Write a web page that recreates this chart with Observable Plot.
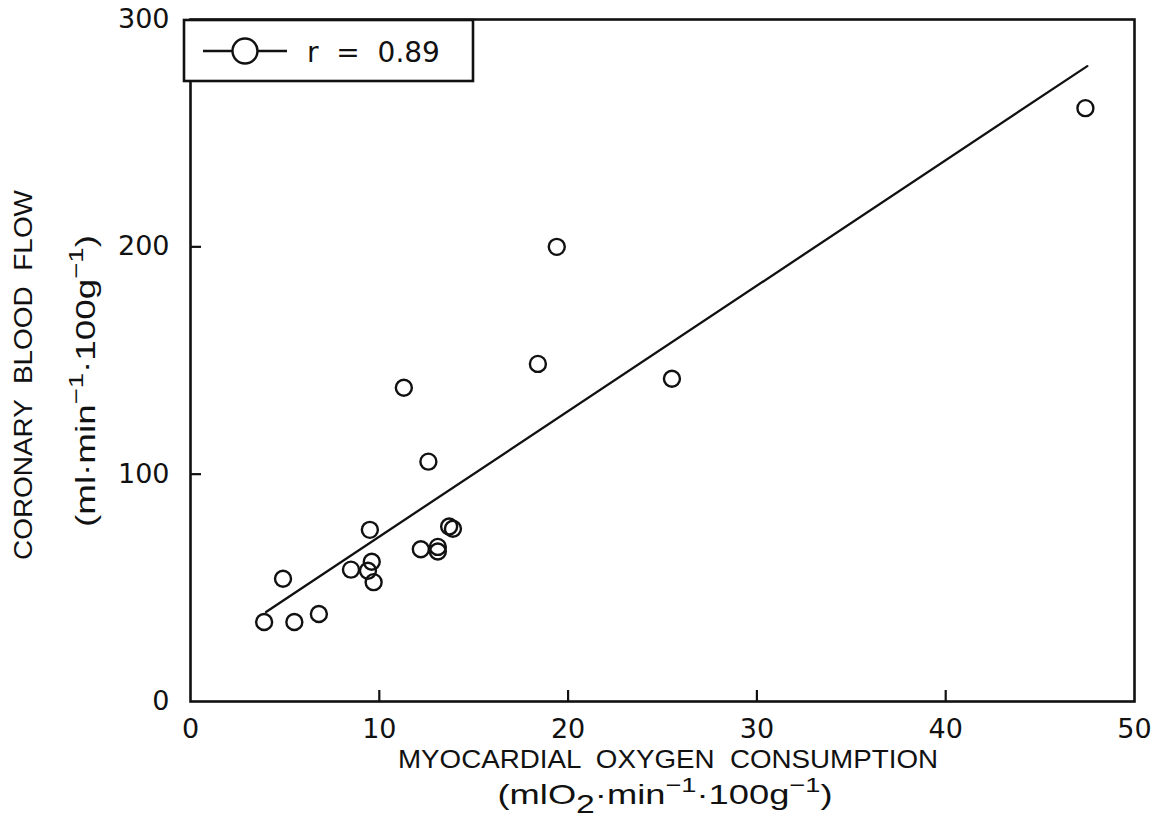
<!DOCTYPE html>
<html>
<head>
<meta charset="utf-8">
<script src="https://cdn.jsdelivr.net/npm/d3@7"></script>
<script src="https://cdn.jsdelivr.net/npm/@observablehq/plot@0.6"></script>
<style>
  html, body { margin: 0; padding: 0; background: #fff; }
  #chart svg { display: block; }
</style>
</head>
<body>
<div id="chart"></div>
<script>
// Myocardial oxygen consumption (x) vs coronary blood flow (y), one entry per observation
const mvo2 = [3.9, 5.5, 6.8, 4.9, 8.5, 9.6, 9.4, 9.7, 9.5, 12.2, 13.1, 13.1, 13.7, 13.9, 12.6, 11.3, 18.4, 19.4, 25.5, 47.4];
const cbf  = [35, 35, 38.5, 54, 58, 61.5, 57.5, 52.5, 75.5, 67, 68, 66, 77, 76, 105.5, 138, 148.5, 200, 142, 261];

// End points of the fitted regression line
const fitX = [4.0, 47.5];
const fitY = [39.4, 279.5];

// Axis ticks
const xTicks = [0, 10, 20, 30, 40, 50];
const yTicks = [0, 100, 200, 300];
const xInnerTicks = [10, 20, 30, 40];
const yInnerTicks = [100, 200];

const rLabel = "r = 0.89";

const points = mvo2.map((x, i) => ({x, y: cbf[i]}));
const fit = fitX.map((x, i) => ({x, y: fitY[i]}));

const W = 1160, H = 823;
const mTop = 19, mRight = 26, mBottom = 122, mLeft = 190;
const innerW = W - mLeft - mRight, innerH = H - mTop - mBottom;
const tickLen = 11;
const FONT = "'Liberation Sans', Arial, Helvetica, sans-serif";
const NUMFONT = "'DejaVu Sans', 'Liberation Sans', sans-serif";
const INK = "#111";

const svg = Plot.plot({
  width: W,
  height: H,
  marginTop: mTop,
  marginRight: mRight,
  marginBottom: mBottom,
  marginLeft: mLeft,
  style: {fontFamily: NUMFONT, fontSize: "27px", color: INK, background: "#fff"},
  x: {domain: [0, 50]},
  y: {domain: [0, 300]},
  marks: [
    Plot.axisX(xTicks, {tickSize: 0, tickPadding: 17, label: null}),
    Plot.axisY(yTicks, {tickSize: 0, tickPadding: 21, label: null}),
    // inward ticks along the bottom and left edges
    Plot.tickX(xInnerTicks, {x: d => d, insetTop: innerH - tickLen, stroke: INK, strokeWidth: 2.2}),
    Plot.tickY(yInnerTicks, {y: d => d, insetRight: innerW - tickLen, stroke: INK, strokeWidth: 2.2}),
    Plot.frame({stroke: INK, strokeWidth: 2.6}),
    Plot.line(fit, {x: "x", y: "y", stroke: INK, strokeWidth: 2.3}),
    Plot.dot(points, {x: "x", y: "y", r: 8, stroke: INK, strokeWidth: 2.4, fill: "none"})
  ]
});

const root = d3.select(svg);
const g = root.append("g")
  .attr("font-family", FONT)
  .attr("fill", INK);

// x axis title
g.append("text")
  .attr("x", 668).attr("y", 768)
  .attr("text-anchor", "middle")
  .attr("font-size", 26)
  .attr("textLength", 540).attr("lengthAdjust", "spacingAndGlyphs")
  .text("MYOCARDIAL  OXYGEN  CONSUMPTION");

// x axis units
const xu = g.append("text")
  .attr("x", 665).attr("y", 804)
  .attr("text-anchor", "middle")
  .attr("font-size", 28)
  .attr("textLength", 335).attr("lengthAdjust", "spacingAndGlyphs");
xu.append("tspan").text("(mlO");
xu.append("tspan").attr("dy", 9).attr("font-size", 26).text("2");
xu.append("tspan").attr("dy", -9).text("·min");
xu.append("tspan").attr("dy", -12).attr("font-size", 21).text("−1");
xu.append("tspan").attr("dy", 12).text("·100g");
xu.append("tspan").attr("dy", -12).attr("font-size", 21).text("−1");
xu.append("tspan").attr("dy", 12).text(")");

// y axis title
g.append("text")
  .attr("transform", "translate(32,375) rotate(-90)")
  .attr("text-anchor", "middle")
  .attr("font-size", 25)
  .attr("textLength", 370).attr("lengthAdjust", "spacingAndGlyphs")
  .text("CORONARY  BLOOD  FLOW");

// y axis units
const yu = g.append("text")
  .attr("transform", "translate(95,381) rotate(-90)")
  .attr("text-anchor", "middle")
  .attr("font-size", 28)
  .attr("textLength", 292).attr("lengthAdjust", "spacingAndGlyphs");
yu.append("tspan").text("(ml·min");
yu.append("tspan").attr("dy", -12).attr("font-size", 21).text("−1");
yu.append("tspan").attr("dy", 12).text("·100g");
yu.append("tspan").attr("dy", -12).attr("font-size", 21).text("−1");
yu.append("tspan").attr("dy", 12).text(")");

// legend box in the top-left corner
const lg = root.append("g");
lg.append("rect")
  .attr("x", 184).attr("y", 20).attr("width", 289).attr("height", 61)
  .attr("fill", "#fff").attr("stroke", INK).attr("stroke-width", 2.6);
lg.append("line")
  .attr("x1", 203).attr("x2", 287).attr("y1", 51).attr("y2", 51)
  .attr("stroke", INK).attr("stroke-width", 2.3);
lg.append("circle")
  .attr("cx", 245).attr("cy", 51).attr("r", 12.5)
  .attr("fill", "#fff").attr("stroke", INK).attr("stroke-width", 2.4);
lg.append("text")
  .attr("x", 307).attr("y", 62)
  .attr("text-anchor", "start")
  .attr("font-family", NUMFONT).attr("font-size", 28).attr("fill", INK)
  .style("white-space", "pre")
  .text(rLabel.replace(/ /g, "  "));

document.getElementById("chart").appendChild(svg);
</script>
</body>
</html>
